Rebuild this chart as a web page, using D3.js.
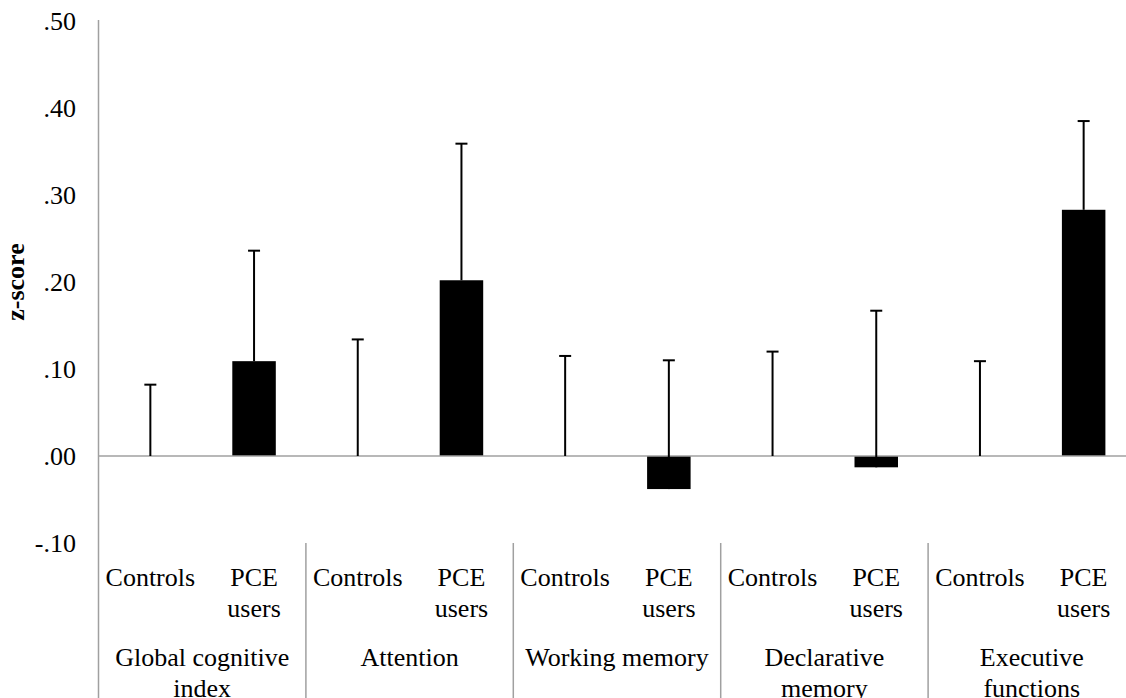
<!DOCTYPE html>
<html>
<head>
<meta charset="utf-8">
<script src="https://d3js.org/d3.v7.min.js"></script>
</head>
<body style="margin:0;padding:0;background:#fff;">
<script>
const groups = ["Global cognitive index","Attention","Working memory","Declarative memory","Executive functions"];
const groupLabelLines = [["Global cognitive","index"],["Attention"],["Working memory"],["Declarative","memory"],["Executive","functions"]];
const subgroups = ["Controls","PCE users"];
const subgroupLabelLines = [["Controls"],["PCE","users"]];
const controlsMean = [0, 0, 0, 0, 0];
const controlsErr = [0.082, 0.134, 0.115, 0.120, 0.109];
const pceMean = [0.109, 0.202, -0.038, -0.013, 0.283];
const pceErr = [0.127, 0.157, 0.148, 0.180, 0.102];
const yTicks = [-0.10, 0.00, 0.10, 0.20, 0.30, 0.40, 0.50];

const W = 1126, H = 698;
const FONT = '"Liberation Serif"';
const svg = d3.select("body").append("svg").attr("width", W).attr("height", H).style("display", "block");

const left = 98.5, step = 207.4;
const y = d3.scaleLinear().domain([-0.1, 0.5]).range([543, 21]);
const x0 = d3.scaleBand().domain(groups).range([left, left + step * groups.length]).padding(0);
const x1 = d3.scaleBand().domain(subgroups).range([0, x0.bandwidth()]).padding(0);
const barW = 43.5;
const axisColor = "#a0a0a0";
const fs = 26;

const rows = [];
groups.forEach((g, i) => {
  rows.push({g, s: subgroups[0], mean: controlsMean[i], err: controlsErr[i]});
  rows.push({g, s: subgroups[1], mean: pceMean[i], err: pceErr[i]});
});
const cx = d => x0(d.g) + x1(d.s) + x1.bandwidth() / 2;

// y tick labels
const fmt = v => (v < 0 ? "-" : "") + Math.abs(v).toFixed(2).replace(/^0\./, ".");
const yAxis = d3.axisLeft(y).tickValues(yTicks).tickSize(0).tickPadding(0).tickFormat(fmt);
const ya = svg.append("g").attr("transform", "translate(76,0)").call(yAxis);
ya.select(".domain").remove();
ya.selectAll("text").style("font-family", FONT).style("font-size", fs + "px").attr("fill", "#000").attr("dy", "0.32em");

// y axis line
svg.append("line").attr("x1", left).attr("x2", left).attr("y1", y(0.5) - 1).attr("y2", H)
  .attr("stroke", axisColor).attr("stroke-width", 1.5);

// y title
svg.append("text").attr("transform", `translate(15,282) rotate(-90)`)
  .attr("text-anchor", "middle").attr("dy", "0.35em")
  .style("font-family", FONT).style("font-size", fs + "px").style("font-weight", "bold").attr("fill", "#000").text("z-score");

// bars
svg.append("g").selectAll("rect").data(rows.filter(d => d.mean !== 0)).join("rect")
  .attr("x", d => cx(d) - barW / 2).attr("width", barW)
  .attr("y", d => y(Math.max(0, d.mean))).attr("height", d => Math.abs(y(d.mean) - y(0)))
  .attr("fill", "#000");

// zero line
svg.append("line").attr("x1", left).attr("x2", W).attr("y1", y(0)).attr("y2", y(0))
  .attr("stroke", axisColor).attr("stroke-width", 1.5);

// error bars
const eb = svg.append("g").attr("stroke", "#000").attr("stroke-width", 2);
eb.selectAll(".stem").data(rows).join("line").attr("class", "stem")
  .attr("x1", cx).attr("x2", cx).attr("y1", d => y(d.mean)).attr("y2", d => y(d.mean + d.err));
eb.selectAll(".cap").data(rows).join("line").attr("class", "cap")
  .attr("x1", d => cx(d) - 6).attr("x2", d => cx(d) + 6)
  .attr("y1", d => y(d.mean + d.err)).attr("y2", d => y(d.mean + d.err));

// category separators
svg.append("g").selectAll("line").data(groups.slice(1)).join("line")
  .attr("x1", d => x0(d)).attr("x2", d => x0(d)).attr("y1", y(-0.1)).attr("y2", H)
  .attr("stroke", axisColor).attr("stroke-width", 1.5);

const addText = (x, yy, t) => svg.append("text").attr("x", x).attr("y", yy).attr("dy", "0.35em")
  .attr("text-anchor", "middle").style("font-family", FONT).style("font-size", fs + "px")
  .attr("fill", "#000").text(t);

// subgroup labels
const lh = 31;
rows.forEach(d => {
  subgroupLabelLines[subgroups.indexOf(d.s)].forEach((t, k) => addText(cx(d), 577 + k * lh, t));
});

// group labels
groups.forEach((g, i) => {
  groupLabelLines[i].forEach((t, k) => addText(x0(g) + x0.bandwidth() / 2, 657 + k * lh, t));
});
</script>
</body>
</html>
